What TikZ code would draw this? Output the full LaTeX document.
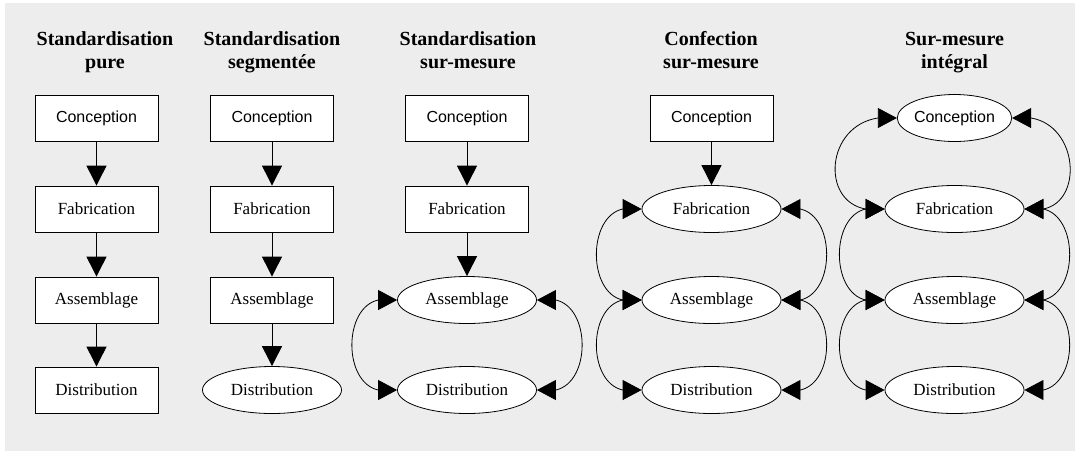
\documentclass[tikz,border=0pt]{standalone}
\usepackage{fontspec}
\setmainfont{Liberation Serif}
\setsansfont{Liberation Sans}
\usetikzlibrary{shapes.geometric,arrows.meta}
\definecolor{bgc}{HTML}{EDEDED}
\begin{document}
\begin{tikzpicture}[x=1pt,y=1pt,
  box/.style={draw, fill=white, line width=0.8pt, minimum width=123pt, minimum height=46pt, inner sep=0pt},
  oval/.style={ellipse, draw, fill=white, line width=0.8pt, minimum width=139pt, minimum height=47pt, inner sep=0pt},
  sans/.style={font=\sffamily\fontsize{16}{18}\selectfont},
  serif/.style={font=\rmfamily\fontsize{17}{19}\selectfont},
  title/.style={font=\rmfamily\bfseries\fontsize{20}{23}\selectfont, anchor=base, inner sep=0pt},
  arr/.style={line width=0.9pt, -{Triangle[length=20pt,width=20pt]}},
  cyc/.style={line width=0.8pt, {Triangle[length=19pt,width=20pt]}-{Triangle[length=19pt,width=20pt]}},
]
\useasboundingbox (0,0) rectangle (1075,-451);
\fill[bgc] (5,-3) rectangle (1075,-451);

% titles
\node[title] (t1a) at (105,-45) {Standardisation};
\node[title] (t1b) at (105,-68) {pure};
\node[title] (t2a) at (272,-45) {Standardisation};
\node[title] (t2b) at (272,-68) {segmentée};
\node[title] (t3a) at (468,-45) {Standardisation};
\node[title] (t3b) at (468,-68) {sur-mesure};
\node[title] (t4a) at (711,-45) {Confection};
\node[title] (t4b) at (711,-68) {sur-mesure};
\node[title] (t5a) at (954.5,-45) {Sur-mesure};
\node[title] (t5b) at (954.5,-68) {intégral};

% column 1
\node[box,sans] (c1) at (96.5,-118) {Conception};
\node[box,serif] (f1) at (96.5,-209) {Fabrication};
\node[box,serif] (a1) at (96.5,-300) {Assemblage};
\node[box,serif] (d1) at (96.5,-390) {Distribution};
\draw[arr] (c1) -- (f1);
\draw[arr] (f1) -- (a1);
\draw[arr] (a1) -- (d1);

% column 2
\node[box,sans] (c2) at (272,-118) {Conception};
\node[box,serif] (f2) at (272,-209) {Fabrication};
\node[box,serif] (a2) at (272,-300) {Assemblage};
\node[oval,serif] (d2) at (272,-390) {Distribution};
\draw[arr] (c2) -- (f2);
\draw[arr] (f2) -- (a2);
\draw[arr] (a2) -- (d2);

% column 3
\node[box,sans] (c3) at (467,-118) {Conception};
\node[box,serif] (f3) at (467,-209) {Fabrication};
\node[oval,serif] (a3) at (467,-300) {Assemblage};
\node[oval,serif] (d3) at (467,-390) {Distribution};
\draw[arr] (c3) -- (f3);
\draw[arr] (f3) -- (a3);
\draw[cyc] (a3.west) -- ++(-19,0) .. controls +(-35,-8) and +(-35,8) .. ([xshift=-19pt]d3.west) -- (d3.west);
\draw[cyc] (a3.east) -- ++(19,0) .. controls +(35,-8) and +(35,8) .. ([xshift=19pt]d3.east) -- (d3.east);

% column 4
\node[box,sans] (c4) at (711.5,-118) {Conception};
\node[oval,serif] (f4) at (711.5,-209) {Fabrication};
\node[oval,serif] (a4) at (711.5,-300) {Assemblage};
\node[oval,serif] (d4) at (711.5,-390) {Distribution};
\draw[arr] (c4) -- (f4);
\draw[cyc] (f4.west) -- ++(-19,0) .. controls +(-35,-8) and +(-35,8) .. ([xshift=-19pt]a4.west) -- (a4.west);
\draw[cyc] (f4.east) -- ++(19,0) .. controls +(35,-8) and +(35,8) .. ([xshift=19pt]a4.east) -- (a4.east);
\draw[cyc] (a4.west) -- ++(-19,0) .. controls +(-35,-8) and +(-35,8) .. ([xshift=-19pt]d4.west) -- (d4.west);
\draw[cyc] (a4.east) -- ++(19,0) .. controls +(35,-8) and +(35,8) .. ([xshift=19pt]d4.east) -- (d4.east);

% column 5
\node[oval,sans,minimum width=106pt] (c5) at (954.5,-118) {Conception};
\node[oval,serif] (f5) at (954.5,-209) {Fabrication};
\node[oval,serif] (a5) at (954.5,-300) {Assemblage};
\node[oval,serif] (d5) at (954.5,-390) {Distribution};
\draw[cyc] (c5.west) -- ++(-19,0) .. controls +(-52,-8) and +(-45,8) .. ([xshift=-19pt]f5.west) -- (f5.west);
\draw[cyc] (c5.east) -- ++(19,0) .. controls +(47,-8) and +(40,8) .. ([xshift=19pt]f5.east) -- (f5.east);
\draw[cyc] (f5.west) -- ++(-19,0) .. controls +(-35,-8) and +(-35,8) .. ([xshift=-19pt]a5.west) -- (a5.west);
\draw[cyc] (f5.east) -- ++(19,0) .. controls +(35,-8) and +(35,8) .. ([xshift=19pt]a5.east) -- (a5.east);
\draw[cyc] (a5.west) -- ++(-19,0) .. controls +(-35,-8) and +(-35,8) .. ([xshift=-19pt]d5.west) -- (d5.west);
\draw[cyc] (a5.east) -- ++(19,0) .. controls +(35,-8) and +(35,8) .. ([xshift=19pt]d5.east) -- (d5.east);
\end{tikzpicture}
\end{document}
